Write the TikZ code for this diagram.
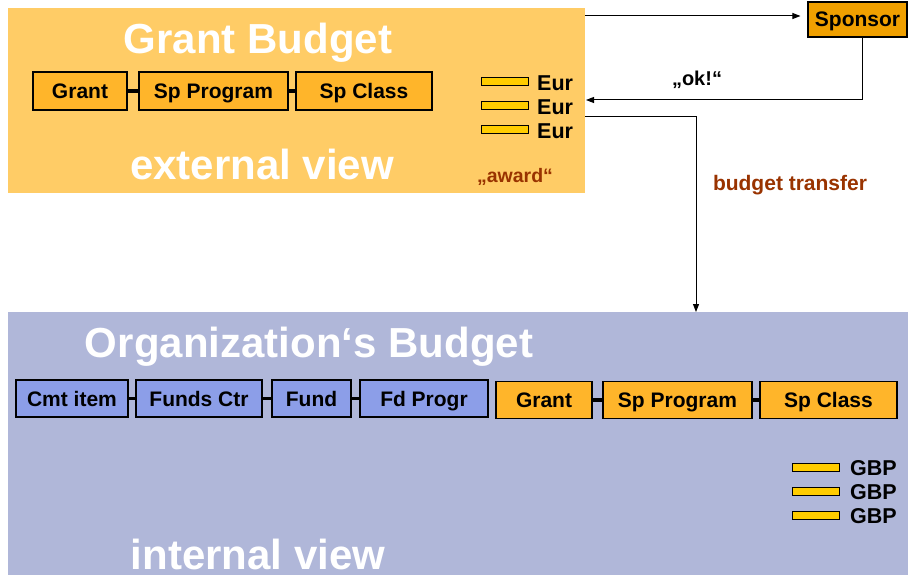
\documentclass[tikz,border=0pt]{standalone}
\usepackage{fontspec}
\setmainfont{Liberation Sans}
\usetikzlibrary{arrows.meta}
\definecolor{extbg}{HTML}{FFCC66}
\definecolor{intbg}{HTML}{B0B7D9}
\definecolor{obox}{HTML}{FFB52A}
\definecolor{bbox}{HTML}{8C9EE8}
\definecolor{spon}{HTML}{F0A000}
\definecolor{bar}{HTML}{FFCC00}
\definecolor{brn}{HTML}{993300}
\tikzset{
  x=1pt,y=-1pt,
  panel/.style={draw=none,inner sep=0,anchor=north west},
  title/.style={text=white,font=\bfseries\fontsize{42}{42}\selectfont,inner sep=0},
  dimbox/.style={draw=black,line width=1.1pt,inner sep=0,font=\bfseries\fontsize{21}{21}\selectfont,text depth=0pt},
  obx/.style={dimbox,fill=obox},
  bbx/.style={dimbox,fill=bbox},
  link/.style={line width=3.6pt,black},
  curr/.style={draw=black,line width=1pt,fill=bar,minimum width=47pt,minimum height=8pt,inner sep=0},
  currtxt/.style={font=\bfseries\fontsize{21.5}{21.5}\selectfont,anchor=west,inner sep=0},
  conn/.style={line width=1pt,-{Triangle[length=8pt,width=6pt]}},
  note/.style={font=\bfseries\fontsize{20}{20}\selectfont,inner sep=0}
}
\begin{document}
\begin{tikzpicture}
\useasboundingbox (0,0) rectangle (908,575);
\fill[white] (0,0) rectangle (908,575);
% panels
\node[panel,fill=extbg,minimum width=577pt,minimum height=185pt] (ext) at (8,8) {};
\node[panel,fill=intbg,minimum width=900pt,minimum height=263pt] (int) at (8,312) {};
% titles
\node[title] (t1) at (258,43) {Grant Budget};
\node[title] (t2) at (262,164) {external view};
\node[title] (t3) at (309,347) {Organization‘s Budget};
\node[title] (t4) at (258,554) {internal view};
% top row
\node[obx,minimum width=94pt,minimum height=38pt] (g1) at (80,91) {Grant};
\node[obx,minimum width=149pt,minimum height=38pt] (p1) at (213.5,91) {Sp Program};
\node[obx,minimum width=136pt,minimum height=38pt] (c1) at (364,91) {Sp Class};
\draw[link] (g1.east) -- (p1.west);
\draw[link] (p1.east) -- (c1.west);
% bottom row
\node[bbx,minimum width=112pt,minimum height=37pt] (b1) at (72,398.5) {Cmt item};
\node[bbx,minimum width=126pt,minimum height=37pt] (b2) at (199,398.5) {Funds Ctr};
\node[bbx,minimum width=79pt,minimum height=37pt] (b3) at (311.5,398.5) {Fund};
\node[bbx,minimum width=128pt,minimum height=37pt] (b4) at (424,398.5) {Fd Progr};
\node[obx,minimum width=96pt,minimum height=37pt] (g2) at (544,400) {Grant};
\node[obx,minimum width=149pt,minimum height=37pt] (p2) at (677.5,400) {Sp Program};
\node[obx,minimum width=137pt,minimum height=37pt] (c2) at (828.5,400) {Sp Class};
\draw[link] (b1.east) -- (b2.west);
\draw[link] (b2.east) -- (b3.west);
\draw[link] (b3.east) -- (b4.west);
\draw[link] (g2.east) -- (p2.west);
\draw[link] (p2.east) -- (c2.west);
% Eur bars
\foreach \i/\yy in {1/82,2/106,3/130}{
  \node[curr] (e\i) at (504.5,\yy) {};
  \node[currtxt] (et\i) at (537,\yy+1) {Eur};
}
\node[note,text=brn,font=\bfseries\fontsize{19.5}{19.5}\selectfont] (aw) at (515,177) {„award“};
% GBP bars
\foreach \i/\yy in {1/467,2/491,3/515}{
  \node[curr] (gb\i) at (816,\yy) {};
  \node[currtxt] (gt\i) at (850,\yy+1) {GBP};
}
% sponsor
\node[dimbox,fill=spon,minimum width=99pt,minimum height=35pt] (sp) at (857.5,19.5) {Sponsor};
% connectors
\coordinate (a1) at (585,16);
\draw[conn] (a1) -- ([xshift=-7pt]sp.west |- a1);
\coordinate (r1) at (862,100);
\coordinate (r2) at (586,100);
\draw[conn] (sp.south -| r1) -- (r1) -- (r2);
\coordinate (s1) at (585,117);
\coordinate (s2) at (696,117);
\draw[conn] (s1) -- (s2) -- (s2 |- int.north);
\node[note] (ok) at (697,80) {„ok!“};
\node[note,text=brn,font=\bfseries\fontsize{21}{21}\selectfont] (bt) at (790,185) {budget transfer};
\end{tikzpicture}
\end{document}
